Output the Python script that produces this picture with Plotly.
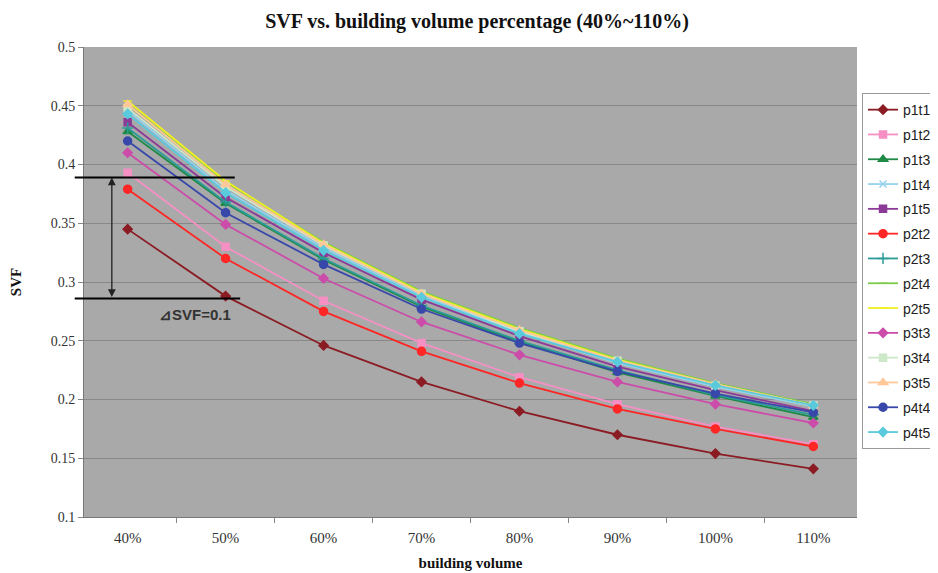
import plotly.graph_objects as go

categories = ["40%", "50%", "60%", "70%", "80%", "90%", "100%", "110%"]

p1t1 = [0.345, 0.288, 0.246, 0.215, 0.190, 0.170, 0.154, 0.141]
p1t2 = [0.393, 0.330, 0.284, 0.248, 0.219, 0.196, 0.177, 0.162]
p1t3 = [0.428, 0.367, 0.319, 0.279, 0.249, 0.223, 0.203, 0.185]
p1t4 = [0.446, 0.378, 0.329, 0.288, 0.257, 0.231, 0.211, 0.194]
p1t5 = [0.436, 0.372, 0.325, 0.285, 0.254, 0.228, 0.208, 0.190]
p2t2 = [0.379, 0.320, 0.275, 0.241, 0.214, 0.192, 0.175, 0.160]
p2t3 = [0.431, 0.368, 0.320, 0.280, 0.250, 0.225, 0.204, 0.187]
p2t4 = [0.451, 0.385, 0.334, 0.292, 0.261, 0.235, 0.214, 0.196]
p2t5 = [0.454, 0.386, 0.333, 0.291, 0.260, 0.234, 0.213, 0.195]
p3t3 = [0.410, 0.349, 0.303, 0.266, 0.238, 0.215, 0.196, 0.180]
p3t4 = [0.448, 0.381, 0.331, 0.290, 0.258, 0.233, 0.212, 0.195]
p3t5 = [0.451, 0.383, 0.332, 0.290, 0.259, 0.233, 0.213, 0.195]
p4t4 = [0.420, 0.359, 0.315, 0.277, 0.248, 0.224, 0.205, 0.189]
p4t5 = [0.443, 0.376, 0.327, 0.287, 0.256, 0.232, 0.212, 0.195]

series_names = ["p1t1", "p1t2", "p1t3", "p1t4", "p1t5", "p2t2", "p2t3", "p2t4",
                "p2t5", "p3t3", "p3t4", "p3t5", "p4t4", "p4t5"]
series_values = [p1t1, p1t2, p1t3, p1t4, p1t5, p2t2, p2t3, p2t4,
                 p2t5, p3t3, p3t4, p3t5, p4t4, p4t5]

styles = {
    "p1t1": ("#8b1c24", "diamond", 7),
    "p1t2": ("#f590c4", "square", 7),
    "p1t3": ("#1e8a46", "triangle-up", 8),
    "p1t4": ("#96d2ee", "x-thin-open", 7),
    "p1t5": ("#8c3a98", "square-x", 7),
    "p2t2": ("#ff2626", "circle", 8),
    "p2t3": ("#2a9c98", "cross-thin-open", 8),
    "p2t4": ("#7ccc4c", "line-ew-open", 6),
    "p2t5": ("#f0f020", "line-ew-open", 6),
    "p3t3": ("#cc4caa", "diamond", 7),
    "p3t4": ("#cce8c8", "square", 7),
    "p3t5": ("#ffc898", "triangle-up", 8),
    "p4t4": ("#3848aa", "circle", 8),
    "p4t5": ("#5acadc", "diamond", 7),
}

# annotation values
delta_top = 0.389
delta_bottom = 0.286
delta_label = "<b>⊿SVF=0.1</b>"

fig = go.Figure()
for name, vals in zip(series_names, series_values):
    color, symbol, size = styles[name]
    fig.add_trace(go.Scatter(
        x=categories, y=vals, name=name, mode="lines+markers",
        legendgroup=name,
        line=dict(color=color, width=1.8),
        marker=dict(color=color, symbol=symbol, size=size,
                    line=dict(color=color, width=1.5)),
    ))

fig.add_shape(type="line", xref="paper", yref="y", x0=-0.012, x1=0.195,
              y0=delta_top, y1=delta_top, line=dict(color="black", width=2))
fig.add_shape(type="line", xref="paper", yref="y", x0=-0.012, x1=0.202,
              y0=delta_bottom, y1=delta_bottom, line=dict(color="black", width=2))
fig.add_annotation(x=0.036, y=delta_top, xref="x domain", yref="y",
                   ax=0.036, ay=delta_bottom, axref="x domain", ayref="y",
                   showarrow=True, arrowside="end+start", arrowhead=2,
                   arrowsize=1.2, arrowwidth=1.3, arrowcolor="#222", text="")
fig.add_annotation(x=0.095, y=0.272, xref="paper", yref="y", text=delta_label,
                   showarrow=False,
                   font=dict(family="Liberation Sans, Arial", size=15, color="#333"))

fig.update_layout(
    width=938, height=573,
    paper_bgcolor="white", plot_bgcolor="#a9a9a9",
    margin=dict(l=76, r=89, t=39, b=64, autoexpand=False),
    title=dict(text="<b>SVF vs. building volume percentage (40%~110%)</b>",
               x=0.5, xanchor="center", y=0.978, yanchor="middle",
               font=dict(family="Liberation Serif, Times New Roman", size=20, color="#111")),
    legend=dict(x=1.0065, xanchor="left", y=0.902, yanchor="top",
                bgcolor="white", bordercolor="#999", borderwidth=1,
                itemwidth=30,
                font=dict(family="Liberation Sans, Arial", size=14, color="#222"),
                tracegroupgap=3.6),
    showlegend=True,
)
fig.update_xaxes(
    type="category", tickson="boundaries", ticks="outside", ticklen=5,
    tickcolor="#888", showgrid=False, showline=True, linecolor="#777",
    ticklabelstandoff=7,
    tickfont=dict(family="Liberation Serif, Times New Roman", size=15, color="#333"),
    title=dict(text="<b>building volume</b>", standoff=12,
               font=dict(family="Liberation Serif, Times New Roman", size=15, color="#111")),
)
fig.update_yaxes(
    range=[0.1, 0.5], tick0=0.1, dtick=0.05, ticks="outside", ticklen=5,
    tickcolor="#888", showgrid=True, gridcolor="#888888", gridwidth=1,
    showline=True, linecolor="#777", zeroline=False,
    tickfont=dict(family="Liberation Serif, Times New Roman", size=14, color="#333"),
    title=dict(text="<b>SVF</b>", standoff=30,
               font=dict(family="Liberation Serif, Times New Roman", size=15, color="#111")),
)

fig.write_html("out.html")
